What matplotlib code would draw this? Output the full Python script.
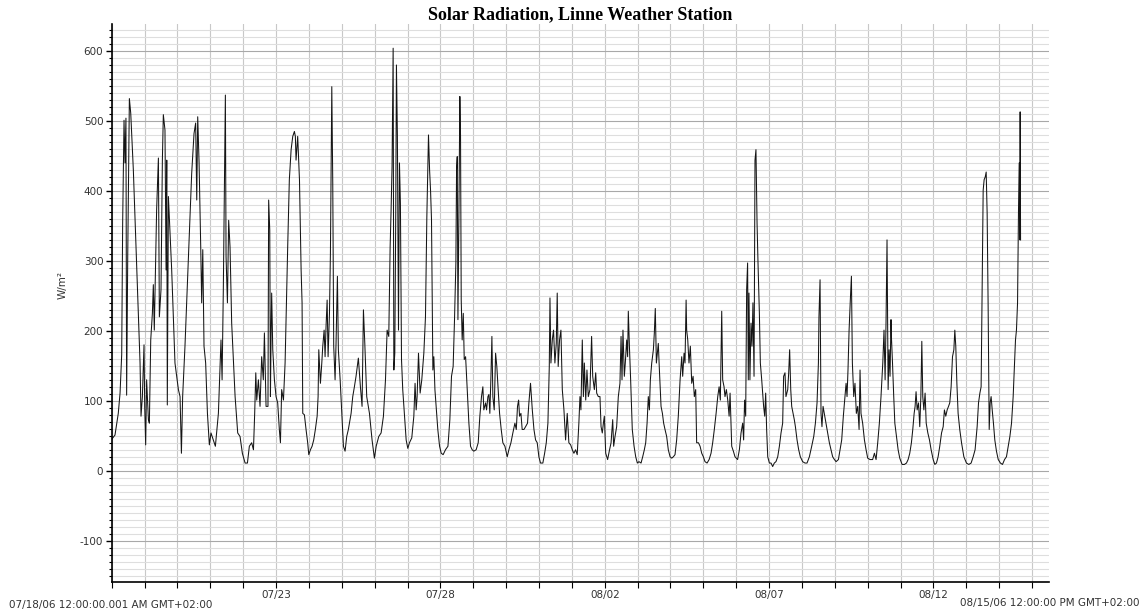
import matplotlib
matplotlib.use("Agg")
import matplotlib.pyplot as plt
import matplotlib.dates as mdates
from matplotlib.ticker import MultipleLocator
from datetime import datetime, timedelta

plt.rcParams["axes.unicode_minus"] = False

# ---------------- data (hours since 07/18/06 00:00, W/m²) ----------------
hours = [
 0, 2.4, 4.8, 6.1, 7.3, 8.0, 9.0, 9.7, 10.4, 10.9, 11.7, 12.9, 13.9, 15.8, 18.2, 20.7, 21.4, 22.4, 23.6, 24.1,
 24.8, 25.5, 26.8, 27.5, 28.5, 29.7, 30.4, 31.1, 32.8, 34.1, 34.8, 36.0, 37.0, 37.7, 38.9, 39.7, 40.2, 40.6, 41.4, 43.8,
 46.2, 48.7, 49.9, 50.9, 51.8, 53.5, 56.0, 58.4, 60.1, 61.3, 62.1, 62.8, 63.8, 65.0, 65.7, 66.5, 67.4, 68.6, 69.9, 71.3,
 72.5, 74.2, 75.7, 77.9, 79.8, 80.6, 81.5, 83.0, 83.5, 84.5, 85.4, 86.4, 87.6, 90.1, 92.0, 93.7, 95.4, 97.4, 99.1, 100.5,
 102.2, 103.5, 104.4, 105.2, 105.9, 107.1, 108.3, 109.5, 110.7, 111.5, 112.7, 114.1,
 114.6, 115.4, 115.9, 116.4, 116.8, 117.6, 118.8, 120.0, 121.2, 122.4, 123.2, 124.1, 125.4, 126.6, 127.8, 128.5, 129.7,
 131.0, 132.2, 133.4, 134.1, 134.6, 135.8, 137.1, 138.3, 139.0, 139.5, 140.7, 141.9, 143.1, 143.9, 145.1, 146.3, 147.5,
 148.7, 150.0, 150.7, 151.2, 152.4, 153.4, 154.1, 155.1, 155.8, 156.5, 157.3, 158.0, 159.0, 159.7, 160.7, 161.4, 162.1,
 163.1, 163.8, 164.8, 165.5, 166.8, 168.0, 169.2, 170.4, 171.6, 172.8, 174.8, 176.0, 177.2, 178.4, 180.1, 181.6, 182.8,
 183.8, 184.8, 186.2, 188.2, 190.1, 191.8, 193.1, 195.0, 196.7, 198.4, 199.9, 201.1, 202.3, 203.3, 204.0, 204.7, 205.5,
 206.0, 206.7, 207.4, 207.9, 208.6, 209.4, 210.1, 210.8, 211.6, 212.5, 213.7, 215.0, 216.2, 217.4, 219.1, 220.6, 221.5,
 222.3, 223.0, 224.0, 225.2, 226.4,
 227.9, 229.1, 230.1, 231.3, 232.1, 232.8, 233.5, 234.0, 234.5, 235.2, 236.0, 236.9, 238.1, 239.4, 240.6, 242.0, 243.7,
 245.5, 246.9, 248.1, 249.3, 250.3, 251.3, 251.8, 252.3, 252.8, 253.5, 254.2, 254.7, 255.2, 255.9, 256.7, 257.4, 258.4,
 259.6, 260.8, 262.0, 263.2, 264.4, 266.1, 267.6, 268.8, 270.0, 271.0, 271.7, 273.0, 273.7, 274.7, 275.4, 276.1, 276.9,
 277.6, 278.3, 279.3, 280.3, 281.2, 282.2, 283.2, 284.4, 285.6, 287.1, 288.8, 290.0, 291.5, 292.9, 294.4, 295.4, 296.3,
 297.1, 297.8, 298.8, 299.7, 301.0, 302.2, 303.6, 304.6, 305.8, 307.1, 308.3, 309.5, 310.7, 311.9, 313.1, 314.8, 316.1,
 317.3, 318.5, 319.5, 320.0, 320.7, 321.7, 322.6, 323.6, 324.6, 325.3, 326.0, 327.0, 328.0, 329.0, 330.2, 331.4, 332.6,
 333.8, 335.1, 336.3, 337.5, 338.7, 339.9, 341.1,
 341.9, 342.6, 343.6, 344.4, 345.1, 346.1, 347.0, 348.0, 349.2, 350.4, 351.2, 352.4, 353.4, 354.1, 355.3, 356.5, 357.3,
 358.2, 359.0, 359.7, 360.7, 362.1, 363.3, 364.6, 365.8, 366.5, 367.5, 368.7, 369.9, 371.1, 371.9, 372.6, 373.3, 374.3,
 375.0, 376.0, 376.7, 377.2, 378.0, 378.9, 380.1, 381.4, 382.6, 383.8, 385.0, 386.5, 387.7, 388.9, 389.9, 390.9, 391.8,
 392.6, 393.3, 394.3, 395.5, 396.2, 396.9, 397.7, 398.4, 399.1, 399.9, 401.1, 402.1, 403.0, 404.0, 405.2, 406.4, 407.7,
 408.9, 410.1, 411.3, 412.5, 413.7, 415.0, 416.2, 416.9, 417.9, 418.6, 419.4, 419.8, 420.6, 421.5, 422.5, 423.5, 424.5,
 425.4, 426.4, 427.1, 428.4, 429.6, 430.8, 432.0, 433.2, 434.7, 436.2, 437.6, 438.8, 440.0, 441.3, 442.5, 443.5, 444.4,
 445.4, 446.1, 447.1, 447.8, 448.8, 449.8, 450.8, 451.5, 452.7, 453.9, 455.1,
 457.0, 458.3, 459.5, 460.7, 461.4, 462.1, 462.9, 463.6, 464.3, 464.8, 465.3, 466.0, 466.8, 467.5, 468.2, 469.0, 469.7,
 470.4, 471.2, 471.9, 472.9, 473.6, 474.6, 476.0, 476.8, 477.5, 478.2, 479.0, 480.2, 481.4, 482.6, 483.8, 485.0, 486.3,
 487.5, 488.7, 489.9, 490.6, 491.6, 492.3, 493.6, 494.3, 495.0, 495.8, 496.5, 497.5, 498.4, 499.2, 500.4, 501.6, 502.8,
 504.5, 506.2, 507.7, 509.4, 511.1, 512.6, 513.8, 515.0, 516.0, 516.4, 517.2, 517.9, 518.6, 519.4, 520.3, 521.6, 522.8,
 524.0, 525.2, 526.4, 527.7, 528.9, 530.6, 531.8, 533.0, 534.2, 535.4, 536.2, 536.9, 537.6, 538.4, 539.3, 540.1, 540.8,
 541.8, 542.7, 543.7, 544.7, 545.7, 546.4, 547.1, 548.3, 549.6, 550.8, 552.0, 553.7, 555.6, 556.9, 558.1, 559.3, 560.5,
 561.7, 563.0, 563.9, 564.7, 565.4, 566.1, 566.9, 567.6, 568.3, 569.0,
 569.3, 570.1, 571.0, 571.8, 573.0, 574.2, 575.4, 577.1, 578.8, 580.3, 581.5, 582.7, 583.9, 584.9, 585.9, 586.6, 587.3,
 588.1, 589.1, 590.0, 590.8, 591.5, 592.2, 593.0, 593.9, 594.7, 595.9, 597.1, 598.3, 599.8, 601.0, 602.2, 603.4, 604.6,
 605.9, 607.1, 608.0, 609.0, 610.0, 611.0, 611.9, 612.9, 613.9, 614.9, 615.6, 616.3, 617.1, 618.0, 619.2, 620.5, 622.2,
 624.1, 625.8, 627.5, 629.0, 630.4, 631.9, 632.9, 633.9, 634.8, 635.6, 636.3, 637.0, 637.8, 638.5, 639.2, 639.9, 640.7,
 641.4, 642.1, 642.9, 643.8, 644.8, 646.0, 647.3, 648.9, 650.4, 651.9, 653.3, 654.6, 655.8, 657.0, 658.2, 659.2, 659.9,
 660.6, 661.4, 662.1, 662.6, 663.1, 663.3, 663.6,
]
radiation = [
 45, 51, 82, 111, 166, 354, 501, 440, 504, 108, 306, 532, 511, 430, 297, 154, 78, 106, 180, 92,
 37, 130, 73, 68, 187, 225, 266, 201, 373, 447, 220, 259, 444, 509, 487, 287, 444, 94, 392, 287,
 154, 116, 106, 25, 106, 178, 306, 425, 482, 497, 387, 506, 440, 320, 240, 316, 178, 154, 82, 37,
 54, 44, 35, 82, 187, 130, 259, 537, 306, 240, 358, 320, 211, 106, 54, 49, 25, 11, 11, 35,
 40, 30, 82, 140, 101, 130, 92, 163, 130, 197, 92, 92,
 387, 344, 106, 201, 254, 173, 130, 106, 97, 59, 40, 116, 101, 154, 259, 320, 416,
 459, 478, 485, 478, 444, 478, 416, 287, 240, 82, 80, 59, 40, 23, 30, 35, 44,
 59, 78, 106, 173, 125, 154, 178, 201, 163, 206, 244, 163, 225, 311, 549, 411, 178,
 130, 182, 278, 173, 130, 82, 35, 28, 49, 59, 82, 106, 120, 135, 161, 120, 92,
 230, 182, 106, 82, 44, 18, 35, 49, 54, 78, 130, 201, 192, 320, 373, 435, 604,
 144, 168, 368, 580, 478, 201, 440, 382, 159, 116, 82, 44, 32, 40, 47, 78, 125,
 87, 106, 168, 111, 130,
 168, 220, 363, 480, 430, 401, 359, 254, 144, 163, 116, 92, 59, 35, 25, 23, 30,
 35, 73, 135, 149, 216, 297, 430, 449, 216, 363, 535, 478, 244, 187, 225, 159, 163,
 116, 68, 35, 30, 28, 30, 40, 78, 106, 120, 87, 97, 87, 106, 109, 82, 135,
 192, 106, 87, 168, 149, 116, 82, 59, 40, 35, 20, 30, 40, 54, 68, 59, 92,
 101, 78, 82, 59, 59, 63, 68, 97, 125, 87, 59, 44, 40, 20, 11, 11, 25,
 40, 68, 149, 247, 154, 187, 201, 154, 182, 254, 149, 187, 201, 116, 87, 44, 82,
 40, 37, 30, 25, 30, 23, 68,
 106, 87, 187, 106, 154, 101, 144, 106, 116, 192, 135, 116, 140, 111, 106, 106, 63,
 54, 68, 78, 25, 16, 28, 40, 73, 35, 49, 63, 106, 125, 192, 130, 201, 135,
 154, 187, 163, 228, 178, 130, 59, 35, 20, 11, 13, 11, 20, 30, 40, 68, 106,
 87, 130, 154, 173, 197, 232, 154, 168, 182, 144, 92, 82, 68, 59, 49, 30, 20,
 18, 20, 23, 44, 78, 130, 163, 135, 168, 154, 244, 201, 187, 154, 178, 125, 135,
 106, 116, 40, 40, 35, 25, 20, 13, 11, 16, 25, 40, 59, 82, 106, 120, 101,
 228, 130, 120, 106, 116, 101, 78, 111, 35, 28, 20,
 16, 30, 54, 68, 44, 101, 78, 259, 297, 130, 254, 130, 211, 178, 240, 135, 444,
 459, 354, 297, 225, 154, 130, 92, 78, 111, 59, 20, 11, 11, 6, 11, 13, 20,
 35, 54, 68, 135, 140, 106, 116, 140, 173, 116, 92, 82, 73, 63, 44, 30, 20,
 13, 11, 11, 20, 35, 49, 68, 97, 154, 220, 273, 82, 63, 92, 82, 68, 54,
 40, 30, 20, 16, 13, 16, 30, 44, 78, 106, 125, 106, 144, 201, 244, 278, 154,
 106, 125, 82, 92, 59, 144, 82, 68, 44, 30, 18, 16, 16, 25, 16, 40, 68,
 106, 154, 201, 130, 216, 330, 116, 173, 135, 216,
 192, 154, 106, 68, 49, 30, 18, 9, 9, 11, 16, 25, 40, 59, 82, 92, 113,
 87, 97, 63, 106, 185, 106, 87, 111, 68, 54, 44, 30, 16, 9, 11, 20, 35,
 54, 63, 87, 78, 87, 92, 97, 120, 163, 173, 201, 178, 125, 82, 59, 40, 20,
 11, 9, 11, 20, 30, 63, 97, 111, 120, 278, 401, 416, 420, 427, 368, 240, 59,
 97, 106, 87, 68, 44, 28, 16, 11, 9, 16, 20, 35, 49, 68, 106, 154, 187,
 201, 240, 373, 440, 330, 513, 330,
]
major_days = ["2006-07-23", "2006-07-28", "2006-08-02", "2006-08-07", "2006-08-12"]
major_labels = ["07/23", "07/28", "08/02", "08/07", "08/12"]
title = "Solar Radiation, Linne Weather Station"
ylabel = "W/m\u00b2"
start_text = "07/18/06 12:00:00.001 AM GMT+02:00"
end_text = "08/15/06 12:00:00 PM GMT+02:00"

start = datetime(2006, 7, 18, 0, 0)
end = datetime(2006, 8, 15, 12, 0)
times = [start + timedelta(hours=h) for h in hours]

# ---------------- figure ----------------
W, H = 1143, 616
fig = plt.figure(figsize=(W / 100, H / 100), dpi=100)
ax = fig.add_axes([111.7 / W, 1 - 581.7 / H, (1048.5 - 111.7) / W, (581.7 - 24) / H])

ax.plot(times, radiation, color="#151515", lw=0.75)

ax.set_xlim(start, end)
ax.set_ylim(-158.6, 638.6)

ax.yaxis.set_major_locator(MultipleLocator(100))
ax.yaxis.set_minor_locator(MultipleLocator(10))
ax.set_xticks([mdates.date2num(datetime.strptime(d, "%Y-%m-%d")) for d in major_days])
ax.set_xticklabels(major_labels)
ax.xaxis.set_minor_locator(mdates.DayLocator())

ax.grid(which="minor", axis="y", color="#dedede", lw=0.8)
ax.grid(which="major", axis="y", color="#a8a8a8", lw=0.8)
ax.grid(which="both", axis="x", color="#c8c8c8", lw=0.8)
ax.set_axisbelow(True)

for s in ["top", "right"]:
    ax.spines[s].set_visible(False)
for s in ["left", "bottom"]:
    ax.spines[s].set_linewidth(1.2)
    ax.spines[s].set_color("black")

ax.tick_params(axis="y", which="major", length=4, width=1, direction="out", labelsize=7.5, pad=2, colors="black")
ax.tick_params(axis="y", which="minor", length=2.5, width=0.8, direction="out")
ax.tick_params(axis="x", which="both", length=4, width=0.8, direction="out", labelsize=7.5, pad=2)
for lab in ax.get_yticklabels() + ax.get_xticklabels():
    lab.set_color("#333333")

fig.text(580 / W, 1 - 15 / H, title, ha="center", va="center", fontsize=13,
         fontweight="bold", family="Liberation Serif")
fig.text(63 / W, 1 - 285 / H, ylabel, ha="center", va="center", rotation=90, fontsize=7.5, color="#333333")
fig.text(9 / W, 1 - 605 / H, start_text, ha="left", va="center", fontsize=7.5, color="#333333")
fig.text(1140 / W, 1 - 603 / H, end_text, ha="right", va="center", fontsize=7.5, color="#333333")

fig.savefig("out.png", dpi=100, facecolor="white")
